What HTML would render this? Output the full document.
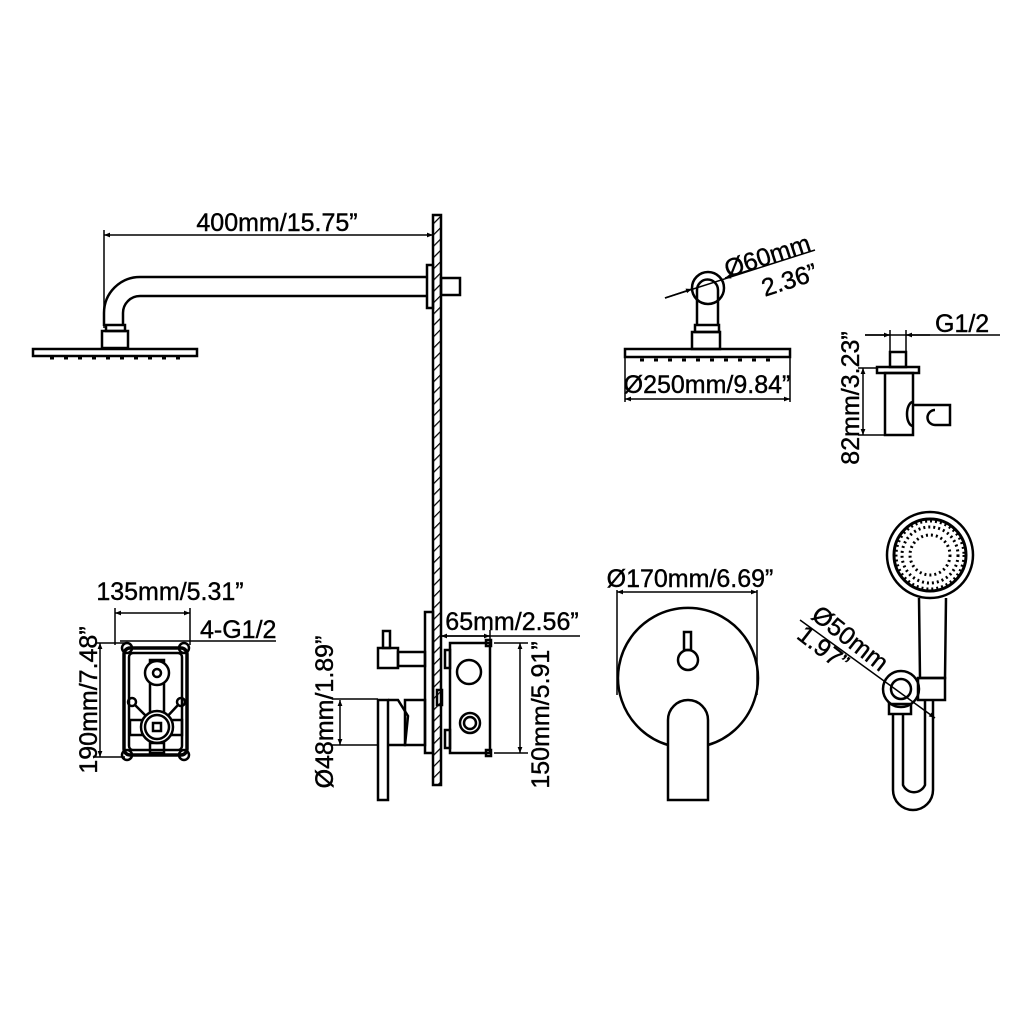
<!DOCTYPE html><html><head><style>body{margin:0;background:#fff}svg{display:block}text{font-family:"Liberation Sans",Arial,sans-serif;fill:#000}</style></head><body>
<svg width="1024" height="1024" viewBox="0 0 1024 1024" xmlns="http://www.w3.org/2000/svg">
<defs>
<pattern id="h" width="8" height="8" patternUnits="userSpaceOnUse" patternTransform="rotate(45)"><rect width="8" height="8" fill="#fff"/><line x1="0" y1="0" x2="0" y2="8" stroke="#000" stroke-width="2.5"/></pattern>
<marker id="a" viewBox="0 0 10 10" refX="10" refY="5" markerWidth="12" markerHeight="6" orient="auto-start-reverse" markerUnits="userSpaceOnUse"><path d="M0,1 L10,5 L0,9 Z" fill="#000"/></marker>
</defs>
<g fill="none" stroke="#000" stroke-width="2.5">
<rect x="433" y="215" width="8" height="570" fill="url(#h)"/>
<line x1="104" y1="235" x2="433" y2="235" stroke-width="1.5" marker-start="url(#a)" marker-end="url(#a)"/>
<line x1="104" y1="230" x2="104" y2="328" stroke-width="1.5"/>
<path d="M427 277 H140 A36 36 0 0 0 104 313 V326"/>
<path d="M427 296 H140 A17 17 0 0 0 123 313 V326"/>
<rect x="106" y="325" width="19" height="6"/>
<rect x="102" y="331" width="26" height="17"/>
<rect x="33" y="349" width="164" height="7"/>
<path d="M50 358h4M64 358h4M78 358h4M92 358h4M106 358h4M120 358h4M134 358h4M148 358h4M162 358h4M176 358h4" stroke-width="3"/>
<rect x="427" y="265" width="6" height="43"/>
<rect x="441" y="278" width="19" height="17"/>

<line x1="115" y1="613" x2="190" y2="613" stroke-width="1.5" marker-start="url(#a)" marker-end="url(#a)"/>
<line x1="115" y1="608" x2="115" y2="645" stroke-width="1.5"/>
<line x1="190" y1="608" x2="190" y2="645" stroke-width="1.5"/>
<line x1="120" y1="641" x2="276" y2="641" stroke-width="1.5"/>
<line x1="100" y1="643" x2="100" y2="757" stroke-width="1.5" marker-start="url(#a)" marker-end="url(#a)"/>
<line x1="95" y1="643" x2="125" y2="643" stroke-width="1.5"/>
<line x1="95" y1="757" x2="125" y2="757" stroke-width="1.5"/>
<rect x="124" y="648" width="63" height="107" rx="6" stroke-width="3.5"/>
<rect x="129" y="653" width="53" height="97" rx="4"/>
<circle cx="127" cy="648" r="5"/><circle cx="184" cy="648" r="5"/><circle cx="127" cy="755" r="5"/><circle cx="184" cy="755" r="5"/>
<rect x="150" y="660" width="14" height="55"/>
<circle cx="157" cy="673" r="12" fill="#fff"/><circle cx="157" cy="673" r="4"/>
<circle cx="132" cy="702" r="4"/><circle cx="181" cy="702" r="4"/>
<path d="M135 705 L150 720 M178 705 L164 720"/>
<rect x="130" y="720" width="52" height="15"/>
<circle cx="157" cy="727" r="16" fill="#fff"/><circle cx="157" cy="727" r="12"/>
<rect x="153" y="723" width="8" height="8"/>
<rect x="150" y="743" width="14" height="10"/>

<line x1="441" y1="636" x2="490" y2="636" stroke-width="1.5" marker-start="url(#a)" marker-end="url(#a)"/>
<line x1="490" y1="630" x2="490" y2="643" stroke-width="1.5"/>
<line x1="441" y1="636" x2="580" y2="636" stroke-width="1.5"/>
<rect x="425" y="612" width="8" height="141"/>
<rect x="450" y="643" width="40" height="110"/>
<rect x="445" y="650" width="5" height="18"/><rect x="445" y="730" width="5" height="18"/>
<rect x="486" y="640" width="5" height="6"/><rect x="486" y="750" width="5" height="6"/>
<rect x="437" y="690" width="5" height="15"/>
<circle cx="469" cy="672" r="12"/>
<circle cx="470" cy="723" r="10"/><circle cx="470" cy="723" r="6"/>
<line x1="520" y1="643" x2="520" y2="753" stroke-width="1.5" marker-start="url(#a)" marker-end="url(#a)"/>
<line x1="494" y1="643" x2="528" y2="643" stroke-width="1.5"/>
<line x1="494" y1="753" x2="528" y2="753" stroke-width="1.5"/>
<rect x="383" y="631" width="7" height="17"/>
<rect x="378" y="648" width="20" height="20"/>
<rect x="398" y="652" width="27" height="14"/>
<line x1="340" y1="700" x2="340" y2="745" stroke-width="1.5" marker-start="url(#a)" marker-end="url(#a)"/>
<line x1="332" y1="699" x2="378" y2="699" stroke-width="1.5"/>
<line x1="332" y1="745" x2="378" y2="745" stroke-width="1.5"/>
<rect x="378" y="700" width="10" height="100"/>
<path d="M388 700 H398 L408 716 L405 745 H388"/>
<rect x="405" y="700" width="20" height="45"/>

<line x1="617" y1="592" x2="757" y2="592" stroke-width="1.5" marker-start="url(#a)" marker-end="url(#a)"/>
<line x1="617" y1="590" x2="617" y2="695" stroke-width="1.5"/>
<line x1="757" y1="590" x2="757" y2="695" stroke-width="1.5"/>
<path d="M668 745 A70 70 0 1 1 708 745"/>
<rect x="684" y="632" width="7" height="18"/>
<circle cx="688" cy="660" r="10"/>
<path d="M668 800 V720 A20 20 0 0 1 708 720 V800 Z"/>

<circle cx="930" cy="555" r="43"/><circle cx="930" cy="555" r="36" stroke-width="3"/>
<circle cx="930" cy="555" r="20" stroke-dasharray="2 3" stroke-width="3"/>
<circle cx="930" cy="555" r="28" stroke-dasharray="2 3" stroke-width="3"/>
<circle cx="930" cy="555" r="34" stroke-dasharray="2 3" stroke-width="3"/>
<path d="M919 598 L920 678 H945 L946 598"/>
<rect x="918" y="678" width="27" height="22"/>
<circle cx="901" cy="689" r="18"/><circle cx="901" cy="689" r="10"/>
<rect x="889" y="704" width="22" height="10"/>
<path d="M893 714 V790 A20 20 0 0 0 933 790 V700"/>
<path d="M903 714 V785 A12 12 0 0 0 925 785 V700"/>
<line x1="800" y1="620" x2="935" y2="718" stroke-width="1.5" marker-end="url(#a)"/>

<line x1="665" y1="298" x2="815" y2="250" stroke-width="1.5"/>
<line x1="665" y1="298" x2="692" y2="289" stroke-width="1.5" marker-end="url(#a)"/>
<line x1="750" y1="270" x2="725" y2="278" stroke-width="1.5" marker-end="url(#a)"/>
<circle cx="708" cy="288" r="16"/>
<path d="M697 325 V290 A10 10 0 0 1 718 290 V325"/>
<rect x="695" y="325" width="24" height="7"/>
<rect x="692" y="332" width="28" height="17"/>
<rect x="625" y="349" width="165" height="8"/>
<path d="M640 360h4M654 360h4M668 360h4M682 360h4M696 360h4M710 360h4M724 360h4M738 360h4M752 360h4M766 360h4" stroke-width="3"/>
<line x1="625" y1="349" x2="625" y2="402" stroke-width="1.5"/>
<line x1="790" y1="349" x2="790" y2="402" stroke-width="1.5"/>
<line x1="625" y1="399" x2="790" y2="399" stroke-width="1.5" marker-start="url(#a)" marker-end="url(#a)"/>

<line x1="865" y1="335" x2="1000" y2="335" stroke-width="1.5"/>
<line x1="865" y1="335" x2="890" y2="335" stroke-width="1.5" marker-end="url(#a)"/>
<line x1="930" y1="335" x2="906" y2="335" stroke-width="1.5" marker-end="url(#a)"/>
<line x1="890" y1="330" x2="890" y2="352" stroke-width="1.5"/>
<line x1="906" y1="330" x2="906" y2="352" stroke-width="1.5"/>
<rect x="890" y="352" width="16" height="15"/>
<rect x="877" y="367" width="42" height="6"/>
<rect x="885" y="373" width="28" height="62"/>
<path d="M913 405 H950 V425 H935 A7 7 0 0 1 935 410"/>
<path d="M913 402 A6 12 0 0 0 913 426"/>
<line x1="863" y1="368" x2="863" y2="435" stroke-width="1.5" marker-start="url(#a)" marker-end="url(#a)"/>
<line x1="858" y1="368" x2="877" y2="368" stroke-width="1.5"/>
<line x1="858" y1="435" x2="885" y2="435" stroke-width="1.5"/>
</g>
<g font-size="25" stroke="#000" stroke-width="0.4">
<text x="277" y="231" text-anchor="middle">400mm/15.75”</text>
<text x="170" y="600" text-anchor="middle">135mm/5.31”</text>
<text x="200" y="638">4-G1/2</text>
<text x="512" y="630" text-anchor="middle">65mm/2.56”</text>
<text x="690" y="587" text-anchor="middle">Ø170mm/6.69”</text>
<text x="707" y="393" text-anchor="middle">Ø250mm/9.84”</text>
<text x="935" y="332">G1/2</text>
<text transform="translate(97,700) rotate(-90)" text-anchor="middle">190mm/7.48”</text>
<text transform="translate(333,712) rotate(-90)" text-anchor="middle">Ø48mm/1.89”</text>
<text transform="translate(549,715) rotate(-90)" text-anchor="middle">150mm/5.91”</text>
<text transform="translate(859,398) rotate(-90)" text-anchor="middle">82mm/3.23”</text>
<text transform="translate(770,264) rotate(-18)" text-anchor="middle">Ø60mm</text>
<text transform="translate(792,288) rotate(-18)" text-anchor="middle">2.36”</text>
<text transform="translate(845,645) rotate(38)" text-anchor="middle">Ø50mm</text>
<text transform="translate(818,655) rotate(38)" text-anchor="middle">1.97”</text>
</g>
</svg></body></html>
